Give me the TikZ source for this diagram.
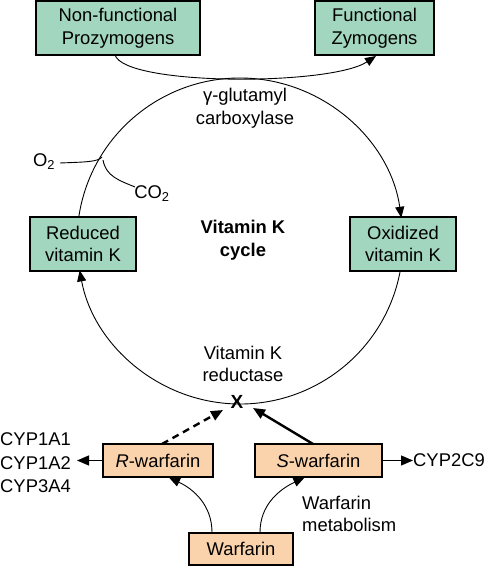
\documentclass[tikz,border=0pt]{standalone}
\usepackage{fontspec}
\setmainfont{Liberation Sans}
\usetikzlibrary{arrows.meta,calc}
\definecolor{boxgreen}{RGB}{162,214,190}
\definecolor{boxorange}{RGB}{250,211,172}
\begin{document}
\begin{tikzpicture}[x=1pt,y=1pt,
  every node/.style={font=\fontsize{18.4}{22.5}\selectfont},
  gbox/.style={draw, line width=1.2pt, fill=boxgreen, align=center, minimum height=54pt, inner sep=0pt},
  obox/.style={draw, line width=1.2pt, fill=boxorange, align=center, minimum height=33pt, inner sep=0pt},
  thin/.style={line width=0.9pt},
  tip/.style={-{Triangle[length=11pt,width=9pt]}},
  bigtip/.style={-{Triangle[length=12pt,width=10pt]}},
  lbl/.style={align=center, inner sep=0pt}
]
\useasboundingbox (0,0) rectangle (484,566);
\coordinate (c) at (240,325);
% cycle arcs
\draw[thin, tip] ([shift={(171.5:163pt)}]c) arc[start angle=171.5, end angle=8.2, radius=163pt];
\draw[thin, tip] ([shift={(-10.6:163pt)}]c) arc[start angle=-10.6, end angle=-169.6, radius=163pt];

% boxes
\node[gbox, minimum width=164pt] (pro) at (118,538) {Non-functional\\Prozymogens};
\node[gbox, minimum width=119pt] (zym) at (374.5,538) {Functional\\Zymogens};
\node[gbox, minimum width=106pt] (red) at (83,322) {Reduced\\vitamin K};
\node[gbox, minimum width=106pt] (oxi) at (403,322) {Oxidized\\vitamin K};
\node[obox, minimum width=110pt] (rw) at (158,105.5) {\textit{R}-warfarin};
\node[obox, minimum width=127pt] (sw) at (318.5,105.5) {\textit{S}-warfarin};
\node[obox, minimum width=104pt, minimum height=32pt] (w) at (241,17) {Warfarin};

% top curve
\coordinate (pb) at (115,511);
\coordinate (zt) at (376,510);
\draw[thin, tip] (pb) .. controls (125,480) and (330,480) .. (zt);

% labels
\node[lbl] (gc) at (245,458) {γ-glutamyl\\carboxylase};
\node[lbl, font=\fontsize{18.4}{22.5}\selectfont\bfseries] (vkc) at (243,326) {Vitamin K\\cycle};
\node[lbl] (vkr) at (243,202) {Vitamin K\\reductase};
\node[inner sep=0pt, font=\fontsize{19}{20}\selectfont\bfseries] (x) at (237,164) {X};

% O2 / CO2
\node[inner sep=0pt] (o2) at (44,404) {O\textsubscript{2}};
\node[inner sep=0pt] (co2) at (152,372) {CO\textsubscript{2}};
\coordinate (j) at (102,409);
\draw[thin] (60,403) .. controls (85,404) and (98,404) .. (j);
\draw[thin] (103,406) .. controls (106,390) and (118,386) .. (135,379);

% inhibition arrows
\coordinate (xl) at (223,156);
\coordinate (xr) at (253,158);
\draw[line width=2.4pt, dash pattern=on 7pt off 5pt, bigtip] (162,122) -- (xl);
\draw[line width=2.4pt, bigtip] (313,122) -- (xr);

% CYP
\node[anchor=west, align=left, inner sep=0pt, font=\fontsize{18.4}{23.5}\selectfont] (cypl) at (0,103) {CYP1A1\\CYP1A2\\CYP3A4};
\node[anchor=west, inner sep=0pt] (cypr) at (413,105.5) {CYP2C9};
\draw[line width=1.2pt, bigtip] (rw.west) -- (77,105.5);
\draw[line width=1.2pt, bigtip] (sw.east) -- (cypr.west);

% warfarin metabolism
\draw[thin, tip] ([xshift=-29pt]w.north) to[out=90, in=-25] ([xshift=11pt]rw.south);
\draw[thin, tip] ([xshift=19pt]w.north) to[out=90, in=205] ([xshift=-14pt]sw.south);
\node[anchor=west, align=left, inner sep=0pt] (wm) at (302,52) {Warfarin\\metabolism};
\end{tikzpicture}
\end{document}
